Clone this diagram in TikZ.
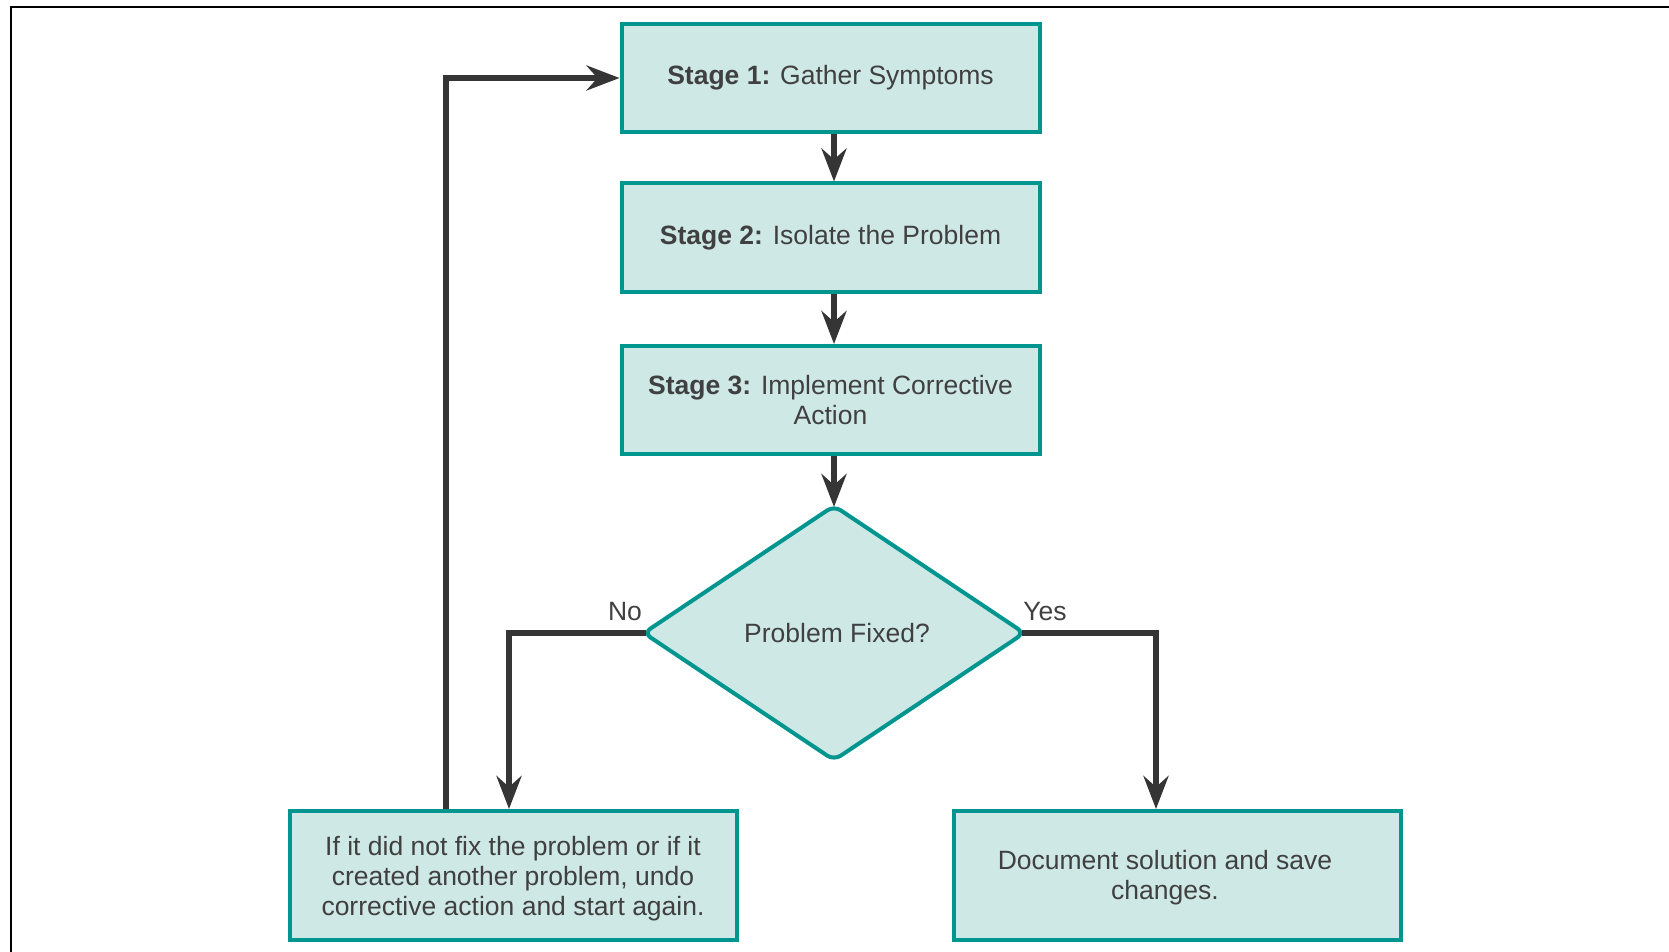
\documentclass[tikz,border=0pt]{standalone}
\usepackage{fontspec}
\setmainfont{Liberation Sans}
\usetikzlibrary{arrows.meta,shapes.geometric}
\definecolor{boxfill}{HTML}{CEE8E6}
\definecolor{boxline}{HTML}{00968F}
\definecolor{arrowc}{HTML}{353535}
\definecolor{txt}{HTML}{404040}
\begin{document}
\begin{tikzpicture}[x=1pt,y=-1pt,
  basebox/.style={draw=boxline, fill=boxfill, line width=4pt, inner sep=0pt,
    text=txt, font=\fontsize{26.5}{30}\selectfont},
  stagebox/.style={basebox, minimum width=418pt, minimum height=108pt, align=center},
  endbox/.style={basebox, minimum width=447pt, minimum height=129pt},
  decision/.style={basebox, diamond, minimum width=382pt, minimum height=256pt, rounded corners=8pt},
  lbl/.style={text=txt, font=\fontsize{26.5}{30}\selectfont, inner sep=0pt},
  arr/.style={draw=arrowc, line width=6pt, -{Stealth[length=33pt,width=25pt,inset=11pt]}},
  frame/.style={draw=black, line width=2pt}]
\useasboundingbox (0,0) rectangle (1669,952);
\draw[frame] (10.6,952) -- (10.6,7.5) -- (1669,7.5);

\node[stagebox] (s1) at (830.5,78) {\textbf{Stage 1:} Gather Symptoms};
\node[stagebox] (s2) at (830.5,237.5) {\textbf{Stage 2:} Isolate the Problem};
\node[stagebox] (s3) at (830.5,400) {\textbf{Stage 3:} Implement Corrective\\Action};
\node[decision] (dia) at (834,633) {\hspace*{6pt}Problem Fixed?};
\node[endbox] (undo) at (513,875.5) {\raisebox{-4pt}[\height][\depth]{\begin{tabular}{@{}c@{}}If it did not fix the problem or if it\\created another problem, undo\\corrective action and start again.\end{tabular}}};
\node[endbox] (doc) at (1177,875.5) {\raisebox{-3pt}[\height][\depth]{\begin{tabular}{@{}c@{}}Document solution and save\\changes.\end{tabular}}\rule{24pt}{0pt}};

\node[lbl] (no) at (625,612) {No};
\node[lbl] (yes) at (1045,612) {Yes};

\coordinate (loopx) at (446,0);
\coordinate (nox) at (509,0);
\coordinate (yesx) at (1156,0);

\draw[arr] (s1.south -| dia.north) -- (s2.north -| dia.north);
\draw[arr] (s2.south -| dia.north) -- (s3.north -| dia.north);
\draw[arr] (s3.south -| dia.north) -- ([yshift=-4pt]dia.north);
\draw[arr] ([xshift=5pt]dia.west) -| (undo.north -| nox);
\draw[arr] ([xshift=-5pt]dia.east) -| (doc.north -| yesx);
\draw[arr] (undo.north -| loopx) |- (s1.west);
\end{tikzpicture}
\end{document}
